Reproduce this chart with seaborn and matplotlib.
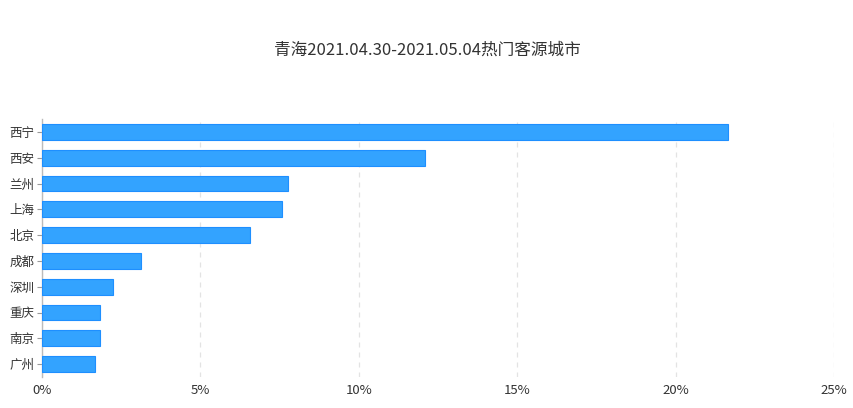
import matplotlib
matplotlib.use("Agg")
import matplotlib.pyplot as plt
import seaborn as sns
import pandas as pd
from matplotlib.ticker import FuncFormatter

cities = ["西宁", "西安", "兰州", "上海", "北京", "成都", "深圳", "重庆", "南京", "广州"]
shares = [21.66, 12.1, 7.76, 7.57, 6.55, 3.11, 2.23, 1.83, 1.83, 1.68]
title = "青海2021.04.30-2021.05.04热门客源城市"

sns.set_style("white")
plt.rcParams['font.family'] = ['Noto Sans CJK SC', 'DejaVu Sans']

df = pd.DataFrame({"city": cities, "share": shares})

fig = plt.figure(figsize=(8.54, 4.08), dpi=100)
ax = fig.add_axes([42/854, 1-377/408, (834-42)/854, (377-119)/408])
sns.barplot(data=df, x="share", y="city", orient="h", color="#33a3ff", saturation=1,
            edgecolor="#1e8fff", linewidth=0.8, width=0.62, ax=ax, zorder=3)
ax.set_xlim(0, 25)
ax.set_ylim(9.5, -0.5)
ax.set_xticks([0, 5, 10, 15, 20, 25])
ax.xaxis.set_major_formatter(FuncFormatter(lambda v, p: f"{v:.0f}%"))
ax.grid(axis="x", color="#e3e3e3", linestyle=(0, (4, 4)), linewidth=0.9, zorder=0)
for s in ["top", "right", "bottom"]:
    ax.spines[s].set_visible(False)
ax.spines["left"].set_color("#bbbbbb")
ax.spines["left"].set_linewidth(1)
ax.tick_params(axis="y", left=True, length=3.6, width=0.8, color="#999999", labelsize=9,
               labelcolor="#333333", pad=2)
ax.tick_params(axis="x", bottom=False, length=0, labelsize=9.5, labelcolor="#333333", pad=5)
ax.set_xlabel("")
ax.set_ylabel("")
fig.text(0.5, 1-50/408, title, ha="center", va="center", fontsize=12, color="#333333")
fig.savefig("out.png", dpi=100)
